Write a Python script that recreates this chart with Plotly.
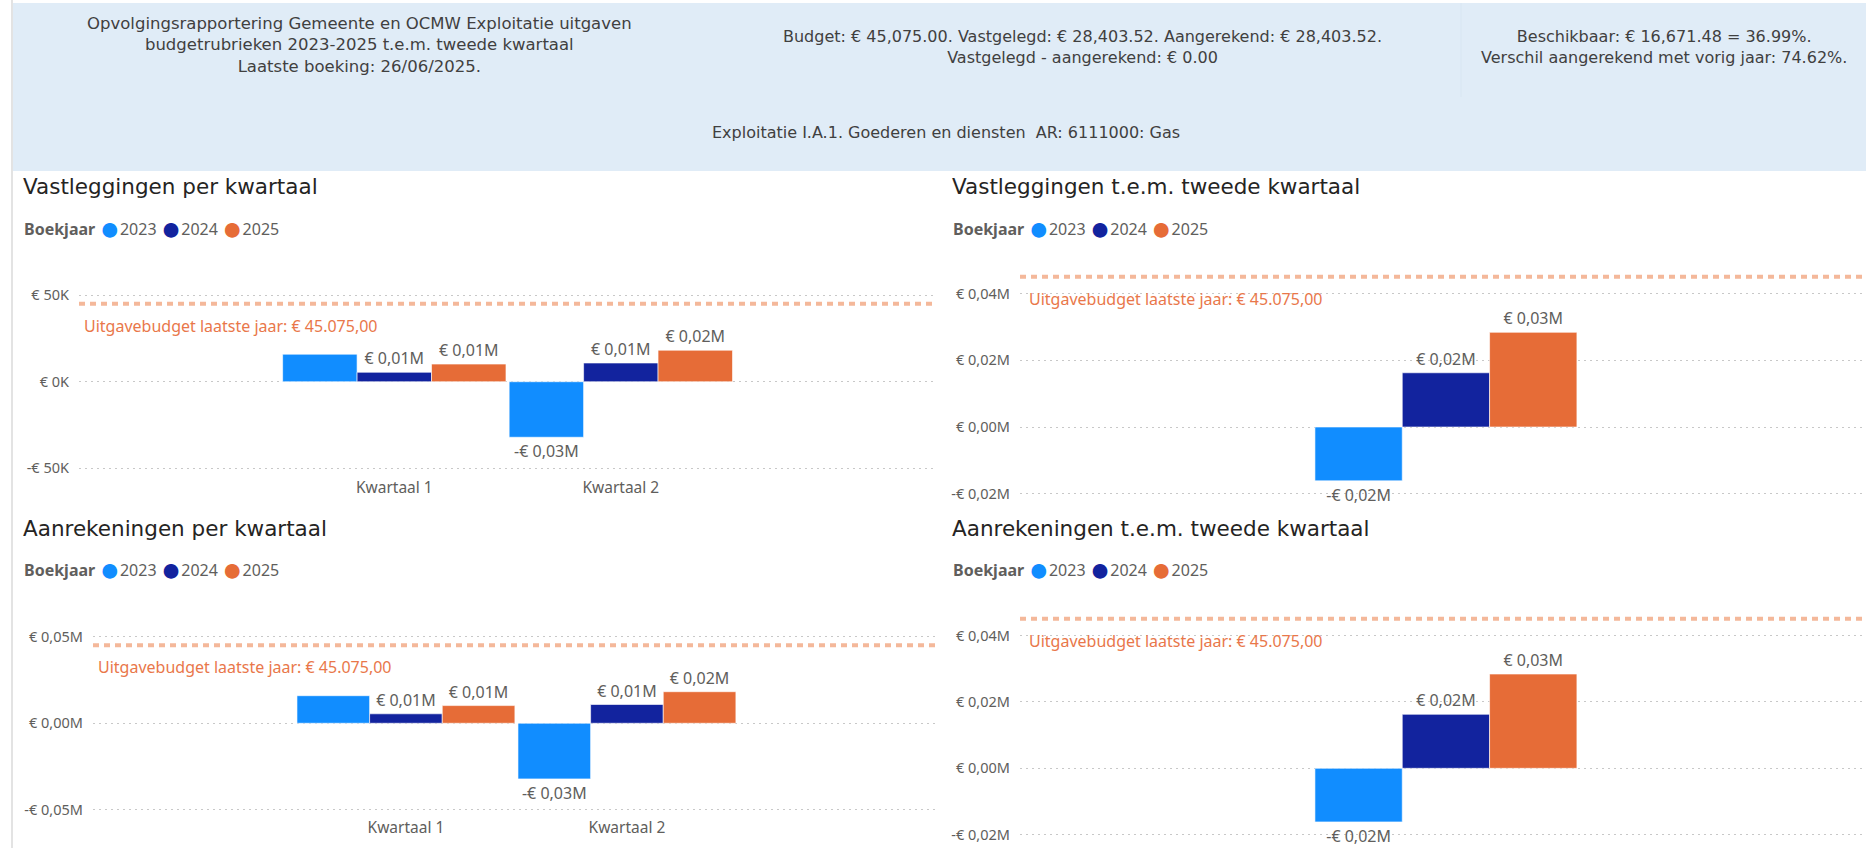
import plotly.graph_objects as go

# ---------------- data ----------------
quarters = ["Kwartaal 1", "Kwartaal 2"]
years = ["2023", "2024", "2025"]
year_colors = ["#118DFF", "#12239E", "#E66C37"]

# Vastleggingen per kwartaal (EUR)
vast_2023 = [15900, -32100]
vast_2024 = [5450, 10816]
vast_2025 = [10200, 18203.52]
# Aanrekeningen per kwartaal (EUR)
aanr_2023 = [15900, -32100]
aanr_2024 = [5450, 10816]
aanr_2025 = [10200, 18203.52]
# Cumulative t.e.m. tweede kwartaal per jaar (EUR)
cum_category = ["t.e.m. tweede kwartaal"]
vast_cum = [-16150, 16266, 28403.52]
aanr_cum = [-16150, 16266, 28403.52]
# which quarterly data labels are shown (Power BI hid one)
label_visible = {"2023": [False, True], "2024": [True, True], "2025": [True, True]}

budget = 45075.00
budget_label = "Uitgavebudget laatste jaar: € 45.075,00"

tl_ticks = [50000, 0, -50000]
tl_ticktext = ["€ 50K", "€ 0K", "-€ 50K"]
tr_ticks = [40000, 20000, 0, -20000]
tr_ticktext = ["€ 0,04M", "€ 0,02M", "€ 0,00M", "-€ 0,02M"]
bl_ticks = [50000, 0, -50000]
bl_ticktext = ["€ 0,05M", "€ 0,00M", "-€ 0,05M"]
br_ticks = [40000, 20000, 0, -20000]
br_ticktext = ["€ 0,04M", "€ 0,02M", "€ 0,00M", "-€ 0,02M"]

titles = ["Vastleggingen per kwartaal", "Vastleggingen t.e.m. tweede kwartaal",
          "Aanrekeningen per kwartaal", "Aanrekeningen t.e.m. tweede kwartaal"]

header_left = ("Opvolgingsrapportering Gemeente en OCMW Exploitatie uitgaven<br>"
               "budgetrubrieken 2023-2025 t.e.m. tweede kwartaal<br>"
               "Laatste boeking: 26/06/2025.")
header_mid = ("Budget: € 45,075.00. Vastgelegd: € 28,403.52. Aangerekend: € 28,403.52.<br>"
              "Vastgelegd - aangerekend: € 0.00")
header_right = ("Beschikbaar: € 16,671.48 = 36.99%.<br>"
                "Verschil aangerekend met vorig jaar: 74.62%.")
header_bottom = "Exploitatie I.A.1. Goederen en diensten  AR: 6111000: Gas"

# ---------------- styling ----------------
W, H = 1870, 848
DIN = "DejaVu Sans"
SEG = "Segoe UI, Noto Sans, Open Sans, sans-serif"
GRAY = "#605E5C"
ORANGE_TXT = "#E9774A"
BUDGET_LINE = "#F4B89A"


def px(x):
    return x / W


def py(y):
    return 1 - y / H


def fmt_m(v):
    s = f"{abs(v) / 1e6:.2f}".replace(".", ",")
    return ("-€ " if v < 0 else "€ ") + s + "M"


fig = go.Figure()

for xa, ya, series in [("x", "y", [vast_2023, vast_2024, vast_2025]),
                       ("x3", "y3", [aanr_2023, aanr_2024, aanr_2025])]:
    for yr, col, vals in zip(years, year_colors, series):
        txt = [fmt_m(v) if show else "" for v, show in zip(vals, label_visible[yr])]
        fig.add_trace(go.Bar(
            x=quarters, y=vals, name=yr, marker_color=col,
            marker_line=dict(color="rgba(255,255,255,0.6)", width=1),
            text=txt, textposition="outside", cliponaxis=False,
            textfont=dict(family=SEG, size=16, color=GRAY),
            xaxis=xa, yaxis=ya, showlegend=False, hoverinfo="skip"))

for xa, ya, cum in [("x2", "y2", vast_cum), ("x4", "y4", aanr_cum)]:
    for yr, col, v in zip(years, year_colors, cum):
        fig.add_trace(go.Bar(
            x=cum_category, y=[v], name=yr, marker_color=col,
            marker_line=dict(color="rgba(255,255,255,0.6)", width=1),
            text=[fmt_m(v)], textposition="outside", cliponaxis=False,
            textfont=dict(family=SEG, size=16, color=GRAY),
            xaxis=xa, yaxis=ya, showlegend=False, hoverinfo="skip"))

# panel geometry in pixels: (x0, x1) / (y_top, y_bottom)
panels = {
    "1": dict(x=(79, 935), y=(262, 476), yr=[-54500, 69200], xr=[-1.392, 2.387],
              ticks=tl_ticks, tt=tl_ticktext, showx=True),
    "2": dict(x=(1020, 1866), y=(262, 498), yr=[-21300, 49500], xr=[-1.603, 1.581],
              ticks=tr_ticks, tt=tr_ticktext, showx=False),
    "3": dict(x=(93, 935), y=(604, 816), yr=[-53500, 68800], xr=[-1.416, 2.394],
              ticks=bl_ticks, tt=bl_ticktext, showx=True),
    "4": dict(x=(1020, 1866), y=(604, 842), yr=[-22200, 49500], xr=[-1.603, 1.581],
              ticks=br_ticks, tt=br_ticktext, showx=False),
}

layout_axes = {}
shapes = []
annotations = []
for k, p in panels.items():
    sfx = "" if k == "1" else k
    layout_axes["xaxis" + sfx] = dict(
        domain=[px(p["x"][0]), px(p["x"][1])], anchor="y" + sfx, range=p["xr"],
        showgrid=False, showline=False, zeroline=False, ticks="",
        showticklabels=p["showx"], tickfont=dict(family=SEG, size=15.5, color=GRAY),
        fixedrange=True, automargin=False)
    layout_axes["yaxis" + sfx] = dict(
        domain=[py(p["y"][1]), py(p["y"][0])], anchor="x" + sfx, range=p["yr"],
        tickvals=p["ticks"], ticktext=p["tt"], showgrid=True, gridcolor="#C8C8C8",
        gridwidth=1, griddash="2px,4px", zeroline=False, showline=False, ticks="",
        ticklabelstandoff=9, tickfont=dict(family=SEG, size=14.5, color=GRAY),
        fixedrange=True, automargin=False)
    shapes.append(dict(type="line", xref=("x" + sfx) + " domain", yref="y" + sfx,
                       x0=0, x1=1, y0=budget, y1=budget,
                       line=dict(color=BUDGET_LINE, width=4, dash="6px,5px"), layer="above"))
    annotations.append(dict(xref=("x" + sfx) + " domain", yref="y" + sfx, x=0, y=budget,
                            xanchor="left", yanchor="middle", xshift=3 if k in "13" else 7,
                            yshift=-22, text=budget_label, showarrow=False,
                            font=dict(family=SEG, size=16, color=ORANGE_TXT)))

# header background and panel borders
shapes.append(dict(type="rect", xref="paper", yref="paper", x0=px(12), x1=px(1866),
                   y0=py(171), y1=py(3), fillcolor="#E0ECF7", line=dict(width=0), layer="below"))
shapes.append(dict(type="line", xref="paper", yref="paper", x0=px(1461), x1=px(1461),
                   y0=py(97), y1=py(3), line=dict(color="#D8E6F2", width=1), layer="below"))
shapes.append(dict(type="line", xref="paper", yref="paper", x0=px(12), x1=px(12),
                   y0=0, y1=1, line=dict(color="#E3E3E3", width=2), layer="below"))

annotations += [
    dict(xref="paper", yref="paper", x=px(359), y=py(45), text=header_left, showarrow=False,
         xanchor="center", yanchor="middle", align="center",
         font=dict(family=DIN, size=16.5, color="#404040")),
    dict(xref="paper", yref="paper", x=px(1082), y=py(47), text=header_mid, showarrow=False,
         xanchor="center", yanchor="middle", align="center",
         font=dict(family=DIN, size=16, color="#404040")),
    dict(xref="paper", yref="paper", x=px(1664), y=py(47), text=header_right, showarrow=False,
         xanchor="center", yanchor="middle", align="center",
         font=dict(family=DIN, size=16, color="#404040")),
    dict(xref="paper", yref="paper", x=px(946), y=py(133), text=header_bottom, showarrow=False,
         xanchor="center", yanchor="middle", align="center",
         font=dict(family=DIN, size=16, color="#404040")),
]

legend_text = "<b>Boekjaar</b> " + " ".join(
    f"<span style='color:{c};font-size:34px;baseline-shift:-5px'>●</span>{y}"
    for y, c in zip(years, year_colors))

title_pos = [(21, 187, 227), (950, 187, 227), (21, 528, 568), (950, 528, 568)]
for t, (tx, ty, ly) in zip(titles, title_pos):
    annotations.append(dict(xref="paper", yref="paper", x=px(tx), y=py(ty), text=t,
                            showarrow=False, xanchor="left", yanchor="middle",
                            font=dict(family=DIN, size=21.5, color="#252423")))
    annotations.append(dict(xref="paper", yref="paper", x=px(tx + 1), y=py(ly), text=legend_text,
                            showarrow=False, xanchor="left", yanchor="middle",
                            font=dict(family=SEG, size=16, color=GRAY)))

fig.update_layout(
    width=W, height=H, margin=dict(l=0, r=0, t=0, b=0),
    paper_bgcolor="white", plot_bgcolor="white",
    barmode="group", bargap=0.014, bargroupgap=0,
    shapes=shapes, annotations=annotations, showlegend=False,
    **layout_axes)

fig.write_html("out.html", config={"displayModeBar": False},
               post_script="document.body.style.margin='0';document.body.style.overflow='hidden';")
